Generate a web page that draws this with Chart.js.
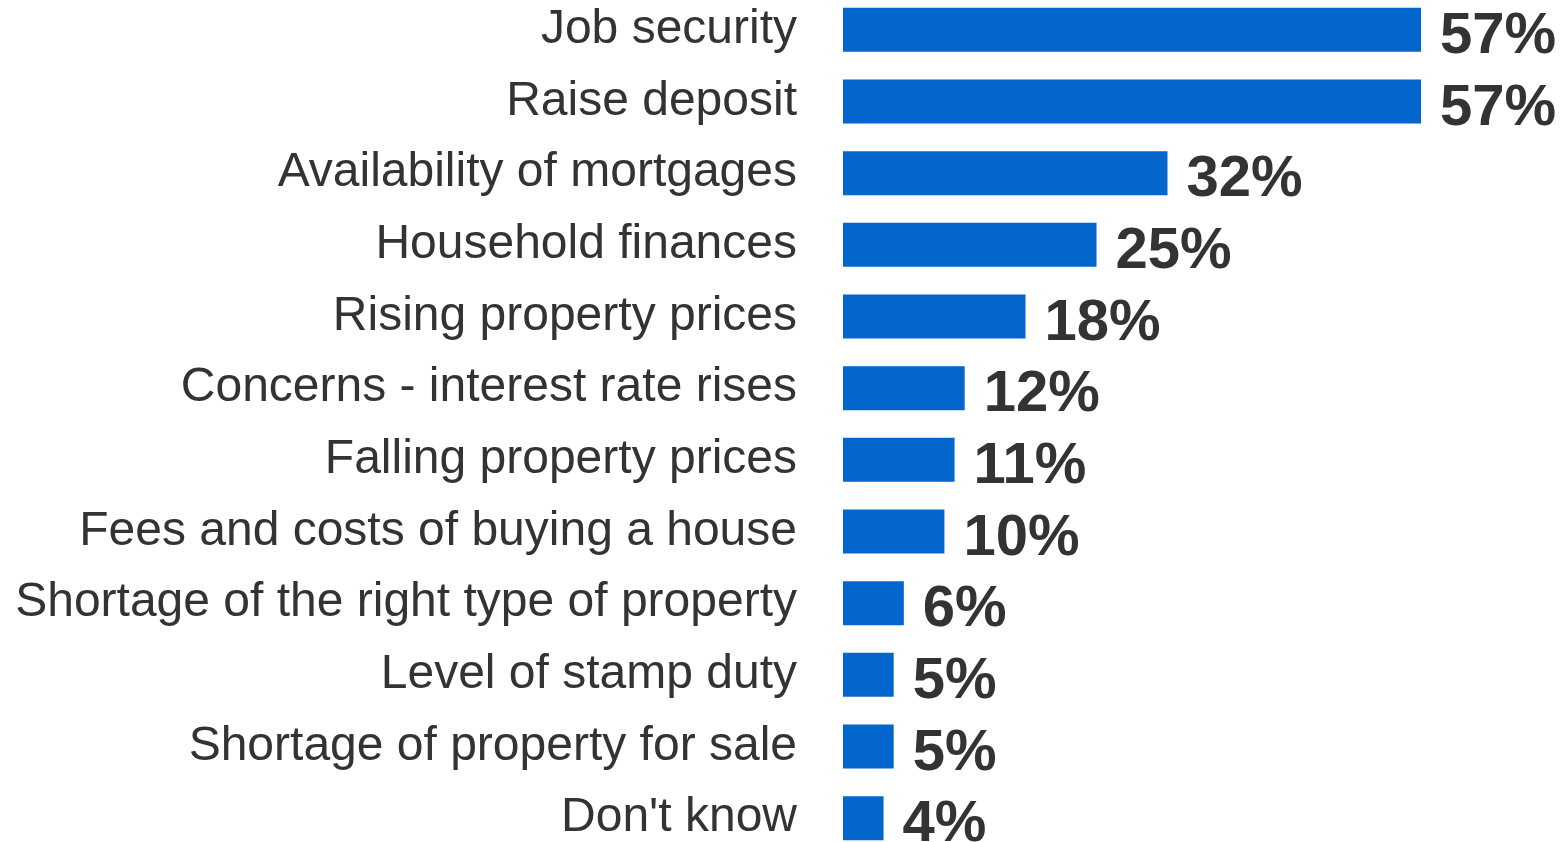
<!DOCTYPE html>
<html lang="en">
<head>
    <meta charset="UTF-8">
    <title>Barriers to buying a house</title>
    <script src="https://cdn.jsdelivr.net/npm/chart.js"></script>
    <style>
        html, body { margin: 0; padding: 0; background: #fff; overflow: hidden; }
        #wrap { width: 1563px; height: 860px; margin-top: -6px; }
    </style>
</head>
<body>
    <div id="wrap"><canvas id="barChart"></canvas></div>
    <script>
        const categories = [
            'Job security',
            'Raise deposit',
            'Availability of mortgages',
            'Household finances',
            'Rising property prices',
            'Concerns - interest rate rises',
            'Falling property prices',
            'Fees and costs of buying a house',
            'Shortage of the right type of property',
            'Level of stamp duty',
            'Shortage of property for sale',
            "Don't know"
        ];
        const shares = [57, 57, 32, 25, 18, 12, 11, 10, 6, 5, 5, 4];

        // draw the bold % labels at the end of each bar
        const valueLabels = {
            id: 'valueLabels',
            afterDatasetsDraw(chart) {
                const ctx = chart.ctx;
                const meta = chart.getDatasetMeta(0);
                ctx.save();
                ctx.font = 'bold 58px "Liberation Sans", Arial, sans-serif';
                ctx.fillStyle = '#333333';
                ctx.textAlign = 'left';
                ctx.textBaseline = 'alphabetic';
                meta.data.forEach((bar, i) => {
                    ctx.fillText(shares[i] + '%', bar.x + 19, bar.y + 23);
                });
                ctx.restore();
            }
        };

        new Chart(document.getElementById('barChart'), {
            type: 'bar',
            data: {
                labels: categories,
                datasets: [{
                    data: shares,
                    backgroundColor: '#0366cc',
                    borderWidth: 0,
                    barPercentage: 0.615,
                    categoryPercentage: 1
                }]
            },
            options: {
                indexAxis: 'y',
                responsive: true,
                maintainAspectRatio: false,
                animation: false,
                layout: { padding: 0 },
                plugins: {
                    legend: { display: false },
                    tooltip: { enabled: false }
                },
                scales: {
                    x: {
                        display: false,
                        min: 0,
                        max: 71
                    },
                    y: {
                        afterFit(scale) {
                            scale.width = 843;
                            scale.paddingTop = 0;
                            scale.paddingBottom = 0;
                        },
                        grid: { display: false, drawTicks: false },
                        border: { display: false },
                        ticks: {
                            padding: 46,
                            color: '#333333',
                            font: { family: '"Liberation Sans", Arial, sans-serif', size: 48 }
                        }
                    }
                }
            },
            plugins: [valueLabels]
        });
    </script>
</body>
</html>
